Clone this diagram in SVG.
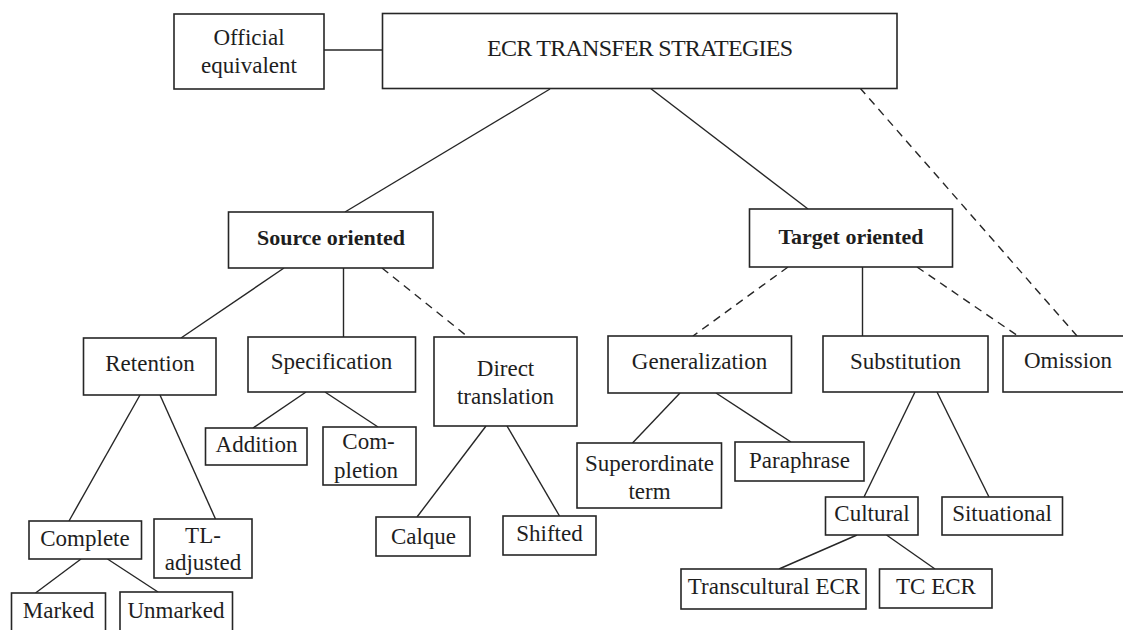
<svg xmlns="http://www.w3.org/2000/svg" width="1123" height="630" viewBox="0 0 1123 630">
<style>
.box{fill:#fff;stroke:#262626;stroke-width:1.6}
.t{font-family:"Liberation Serif","Times New Roman",serif;font-size:23px;fill:#1e1e1e;text-anchor:middle}
.b{font-weight:bold;font-size:22px}
.ttl{font-size:24px}
.ln{stroke:#262626;stroke-width:1.4;fill:none}
.d{stroke-dasharray:8 6}
</style>
<rect width="1123" height="630" fill="#fff"/>
<g id="connectors">
<line class="ln" x1="324" y1="50" x2="382" y2="50"/>
<line class="ln" x1="550" y1="89" x2="345" y2="212"/>
<line class="ln" x1="650" y1="88" x2="808" y2="209"/>
<line class="ln d" x1="860" y1="88" x2="1077" y2="336"/>
<line class="ln" x1="284" y1="268" x2="181" y2="338"/>
<line class="ln" x1="343.5" y1="268" x2="343.5" y2="337"/>
<line class="ln d" x1="382" y1="268" x2="468" y2="337"/>
<line class="ln d" x1="788" y1="267" x2="693" y2="336"/>
<line class="ln" x1="862.5" y1="267" x2="862.5" y2="336"/>
<line class="ln d" x1="917" y1="267" x2="1018" y2="336"/>
<line class="ln" x1="140" y1="395" x2="69" y2="521"/>
<line class="ln" x1="160" y1="395" x2="215.5" y2="519"/>
<line class="ln" x1="81" y1="559" x2="35.5" y2="593"/>
<line class="ln" x1="107.5" y1="559" x2="158" y2="592"/>
<line class="ln" x1="306" y1="392" x2="253" y2="428"/>
<line class="ln" x1="325" y1="392" x2="378" y2="427"/>
<line class="ln" x1="486" y1="426" x2="417" y2="517"/>
<line class="ln" x1="507" y1="426" x2="559.5" y2="516"/>
<line class="ln" x1="680" y1="393" x2="632.5" y2="443"/>
<line class="ln" x1="716" y1="393" x2="791" y2="442"/>
<line class="ln" x1="915" y1="392" x2="864" y2="497"/>
<line class="ln" x1="937" y1="392" x2="989" y2="497"/>
<line class="ln" x1="857" y1="535" x2="779" y2="569"/>
<line class="ln" x1="886.5" y1="535" x2="935" y2="569"/>
</g>
<g id="official">
<rect class="box" x="174" y="14" width="150" height="75"/>
<text class="t" x="249" y="45">Official</text>
<text class="t" x="249" y="73">equivalent</text>
</g>
<g id="ecr">
<rect class="box" x="382.5" y="13.5" width="514.5" height="75"/>
<text class="t ttl" x="640" y="56" textLength="306" lengthAdjust="spacing">ECR TRANSFER STRATEGIES</text>
</g>
<g id="source">
<rect class="box" x="228.5" y="212" width="204.5" height="56"/>
<text class="t b" x="331" y="245">Source oriented</text>
</g>
<g id="target">
<rect class="box" x="749.5" y="209" width="203" height="58"/>
<text class="t b" x="851" y="244">Target oriented</text>
</g>
<g id="retention">
<rect class="box" x="83.5" y="338" width="132.5" height="57"/>
<text class="t" x="150" y="371">Retention</text>
</g>
<g id="specification">
<rect class="box" x="248" y="337" width="167.5" height="55"/>
<text class="t" x="331.5" y="369">Specification</text>
</g>
<g id="direct">
<rect class="box" x="434" y="337" width="143" height="89"/>
<text class="t" x="505.5" y="376">Direct</text>
<text class="t" x="505.5" y="404">translation</text>
</g>
<g id="generalization">
<rect class="box" x="608" y="336" width="183.5" height="57"/>
<text class="t" x="699.5" y="369">Generalization</text>
</g>
<g id="substitution">
<rect class="box" x="823" y="336" width="165" height="56"/>
<text class="t" x="905.5" y="369">Substitution</text>
</g>
<g id="omission">
<rect class="box" x="1003" y="336" width="135" height="56"/>
<text class="t" x="1068" y="368">Omission</text>
</g>
<g id="complete">
<rect class="box" x="29" y="521" width="112.5" height="38"/>
<text class="t" x="85" y="546">Complete</text>
</g>
<g id="tl-adjusted">
<rect class="box" x="154" y="519" width="98" height="59"/>
<text class="t" x="203" y="543">TL-</text>
<text class="t" x="203" y="570">adjusted</text>
</g>
<g id="marked">
<rect class="box" x="11.5" y="593" width="94" height="50"/>
<text class="t" x="58.5" y="618">Marked</text>
</g>
<g id="unmarked">
<rect class="box" x="120" y="592" width="112.5" height="50"/>
<text class="t" x="176" y="618">Unmarked</text>
</g>
<g id="addition">
<rect class="box" x="205.5" y="428" width="101.5" height="37"/>
<text class="t" x="256.5" y="452">Addition</text>
</g>
<g id="completion">
<rect class="box" x="323" y="427" width="93" height="58"/>
<text class="t" x="368.5" y="449">Com-</text>
<text class="t" x="366" y="478">pletion</text>
</g>
<g id="calque">
<rect class="box" x="376" y="517" width="94" height="39"/>
<text class="t" x="423.5" y="544">Calque</text>
</g>
<g id="shifted">
<rect class="box" x="503" y="516" width="93" height="39"/>
<text class="t" x="549.5" y="541">Shifted</text>
</g>
<g id="superordinate">
<rect class="box" x="577" y="443" width="144.5" height="65"/>
<text class="t" x="649.5" y="471">Superordinate</text>
<text class="t" x="649.5" y="499">term</text>
</g>
<g id="paraphrase">
<rect class="box" x="735" y="442" width="129" height="39"/>
<text class="t" x="799.5" y="468">Paraphrase</text>
</g>
<g id="cultural">
<rect class="box" x="825.5" y="497" width="92.5" height="38"/>
<text class="t" x="872" y="521">Cultural</text>
</g>
<g id="situational">
<rect class="box" x="942" y="497" width="120.5" height="38"/>
<text class="t" x="1002" y="521">Situational</text>
</g>
<g id="transcultural">
<rect class="box" x="681" y="569" width="185" height="40"/>
<text class="t" x="774" y="594">Transcultural ECR</text>
</g>
<g id="tc-ecr">
<rect class="box" x="879.5" y="569" width="112.5" height="39"/>
<text class="t" x="936" y="594">TC ECR</text>
</g>
</svg>
